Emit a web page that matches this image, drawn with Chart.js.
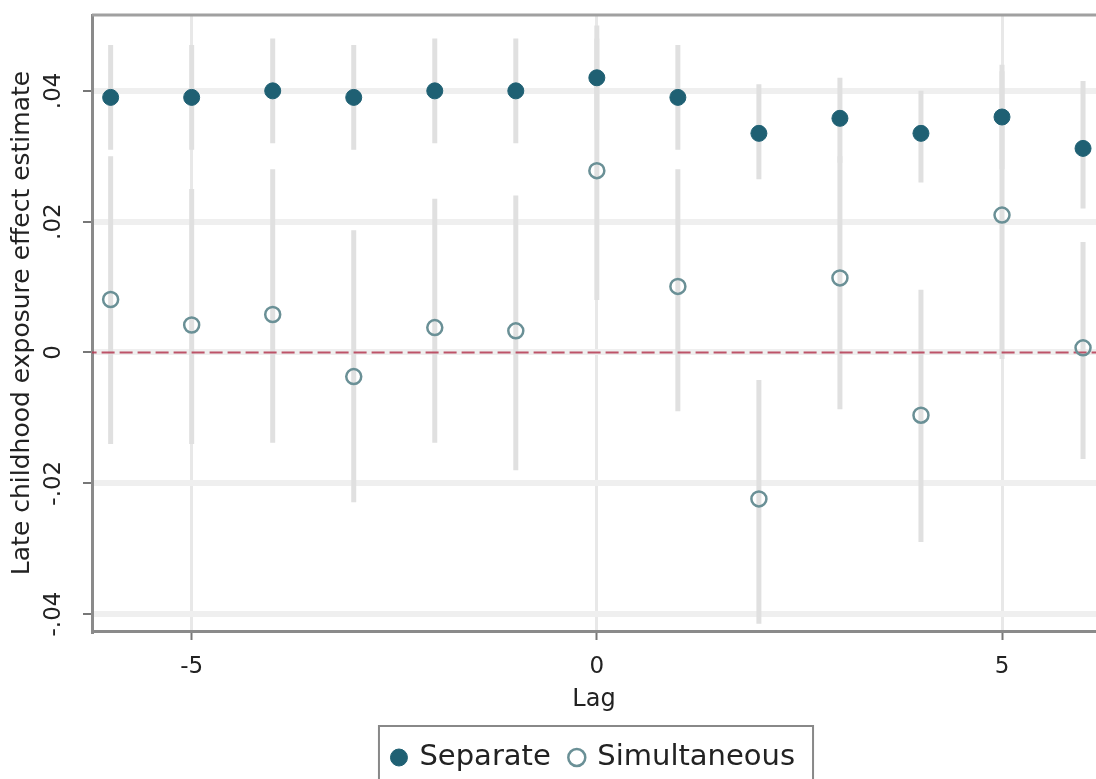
<!DOCTYPE html>
<html>
<head>
<meta charset="utf-8">
<script src="https://cdn.jsdelivr.net/npm/chart.js@4/dist/chart.umd.min.js"></script>
<style>
    html, body { margin: 0; padding: 0; background: #fff; }
    canvas { display: block; }
</style>
</head>
<body>
<canvas id="lagChart" width="1096" height="779"></canvas>
<script>
// values
const lags = [-6, -5, -4, -3, -2, -1, 0, 1, 2, 3, 4, 5, 6];
const separate = [0.039, 0.039, 0.040, 0.039, 0.040, 0.040, 0.042, 0.039, 0.0335, 0.0358, 0.0335, 0.036, 0.0312];
const separateLo = [0.031, 0.031, 0.032, 0.031, 0.032, 0.032, 0.034, 0.031, 0.0265, 0.029, 0.026, 0.028, 0.022];
const separateHi = [0.047, 0.047, 0.048, 0.047, 0.048, 0.048, 0.050, 0.047, 0.041, 0.042, 0.040, 0.044, 0.0415];
const simultaneous = [0.0081, 0.0042, 0.0058, -0.0037, 0.0038, 0.0033, 0.0278, 0.0101, -0.0224, 0.0114, -0.0096, 0.0210, 0.0007];
const simultaneousLo = [-0.014, -0.014, -0.0138, -0.0229, -0.0138, -0.018, 0.008, -0.009, -0.0415, -0.0087, -0.029, -0.001, -0.0163];
const simultaneousHi = [0.030, 0.025, 0.028, 0.0187, 0.0235, 0.024, 0.048, 0.028, -0.0042, 0.030, 0.0096, 0.043, 0.0169];
const xTicks = [-5, 0, 5];
const yTicks = [-0.04, -0.02, 0, 0.02, 0.04];

const FONT = "'DejaVu Sans', sans-serif";

// vertical CI segments, broken up with null gaps
function ciPoints(lo, hi) {
    const pts = [];
    lags.forEach(function(lag, i) {
        pts.push({ x: lag, y: lo[i] });
        pts.push({ x: lag, y: hi[i] });
        pts.push({ x: lag, y: null });
    });
    return pts;
}

function yLabel(v) {
    if (Math.abs(v) < 1e-9) return '0';
    const s = Math.abs(v).toFixed(2).replace(/^0/, '');
    return (v < 0 ? '-' : '') + s;
}

// top border of plot region + box around legend
const framePlugin = {
    id: 'frame',
    afterDraw(chart) {
        const ctx = chart.ctx;
        const area = chart.chartArea;
        ctx.save();
        ctx.strokeStyle = '#a0a0a0';
        ctx.lineWidth = 3;
        ctx.beginPath();
        ctx.moveTo(area.left, area.top);
        ctx.lineTo(area.right, area.top);
        ctx.stroke();

        const boxes = chart.legend.legendHitBoxes;
        if (boxes && boxes.length) {
            let minX = Infinity, maxX = -Infinity;
            boxes.forEach(function(b) {
                minX = Math.min(minX, b.left);
                maxX = Math.max(maxX, b.left + b.width);
            });
            ctx.strokeStyle = '#888';
            ctx.lineWidth = 2;
            ctx.strokeRect(minX - 14, chart.legend.top + 3, (maxX - minX) + 32, 90);
        }
        ctx.restore();
    }
};

const ctx = document.getElementById('lagChart').getContext('2d');

const lagChart = new Chart(ctx, {
    type: 'line',
    data: {
        datasets: [
            {
                label: 'Separate',
                data: lags.map((x, i) => ({ x: x, y: separate[i] })),
                showLine: false,
                pointRadius: 8,
                pointHoverRadius: 8,
                pointBackgroundColor: '#1f6073',
                pointBorderColor: '#1f6073',
                borderColor: '#1f6073',
                backgroundColor: '#1f6073',
                order: 0
            },
            {
                label: 'Simultaneous',
                data: lags.map((x, i) => ({ x: x, y: simultaneous[i] })),
                showLine: false,
                pointRadius: 7.5,
                pointHoverRadius: 7.5,
                pointBorderWidth: 2.5,
                pointBackgroundColor: 'rgba(255,255,255,0)',
                pointBorderColor: '#6a9096',
                borderColor: '#8fb7d0',
                backgroundColor: 'rgba(255,255,255,0)',
                order: 1
            },
            {
                label: 'zero',
                data: [{ x: -7, y: 0 }, { x: 7, y: 0 }],
                borderColor: 'rgba(180, 55, 80, 0.85)',
                borderWidth: 2,
                borderDash: [13, 5],
                pointRadius: 0,
                order: 2
            },
            {
                label: 'ciSeparate',
                data: ciPoints(separateLo, separateHi),
                borderColor: '#e0e0e0',
                borderWidth: 5,
                pointRadius: 0,
                spanGaps: false,
                order: 3
            },
            {
                label: 'ciSimultaneous',
                data: ciPoints(simultaneousLo, simultaneousHi),
                borderColor: '#e0e0e0',
                borderWidth: 5,
                pointRadius: 0,
                spanGaps: false,
                order: 3
            }
        ]
    },
    options: {
        responsive: false,
        animation: false,
        events: [],
        layout: {
            autoPadding: false,
            padding: { left: 4, right: 0, top: 15, bottom: -3 }
        },
        plugins: {
            tooltip: { enabled: false },
            legend: {
                position: 'bottom',
                fullSize: false,
                labels: {
                    filter: item => item.text === 'Separate' || item.text === 'Simultaneous',
                    usePointStyle: true,
                    pointStyle: 'circle',
                    boxWidth: 12,
                    boxHeight: 12,
                    padding: 20,
                    color: '#222',
                    font: { family: FONT, size: 29 }
                }
            }
        },
        scales: {
            x: {
                type: 'linear',
                min: -6.23,
                max: 6.16,
                afterBuildTicks: scale => { scale.ticks = xTicks.map(v => ({ value: v })); },
                afterFit: scale => { scale.height = 92; },
                border: { color: '#8a8a8a', width: 3 },
                grid: {
                    color: '#e8e8e8',
                    lineWidth: 3,
                    drawTicks: true,
                    tickLength: 9,
                    tickColor: '#777',
                    tickWidth: 2
                },
                ticks: {
                    color: '#222',
                    padding: 13,
                    maxRotation: 0,
                    font: { family: FONT, size: 23 },
                    callback: v => String(v)
                },
                title: {
                    display: true,
                    text: 'Lag',
                    color: '#222',
                    font: { family: FONT, size: 24 },
                    padding: { top: 0, bottom: 9 }
                }
            },
            y: {
                type: 'linear',
                min: -0.0426,
                max: 0.0516,
                afterBuildTicks: scale => { scale.ticks = yTicks.map(v => ({ value: v })); },
                afterFit: scale => { scale.width = 88; },
                border: { color: '#8a8a8a', width: 3 },
                grid: {
                    color: '#efefef',
                    lineWidth: 6,
                    drawTicks: true,
                    tickLength: 9,
                    tickColor: '#777',
                    tickWidth: 2
                },
                ticks: {
                    color: '#222',
                    minRotation: 90,
                    maxRotation: 90,
                    crossAlign: 'center',
                    padding: 7,
                    font: { family: FONT, size: 23, lineHeight: 0.6 },
                    callback: v => yLabel(v)
                },
                title: {
                    display: true,
                    text: 'Late childhood exposure effect estimate',
                    color: '#222',
                    font: { family: FONT, size: 25 },
                    padding: { top: 3, bottom: 0 }
                }
            }
        }
    },
    plugins: [framePlugin]
});
</script>
</body>
</html>
